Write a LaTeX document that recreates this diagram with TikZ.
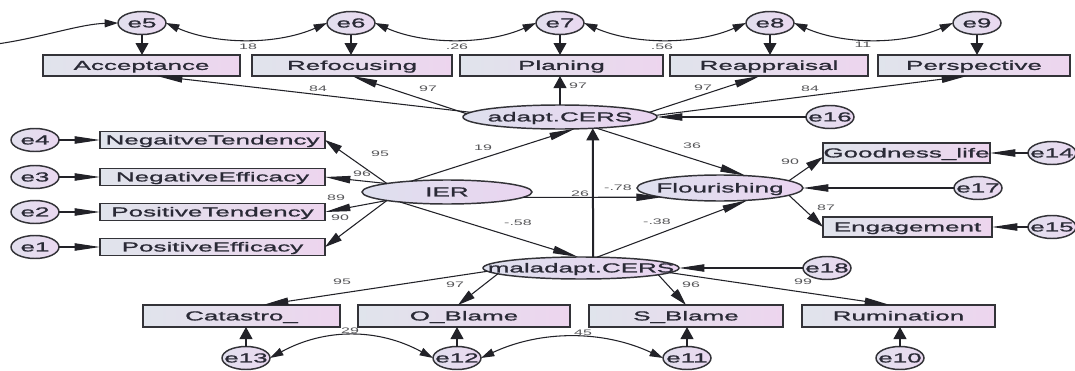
\documentclass[tikz,border=0pt]{standalone}
\usepackage{fontspec}
\newfontfamily\amosfont[FakeStretch=2.0,FakeBold=1.2]{Liberation Sans}
\newfontfamily\amoslabfont[FakeStretch=2.0]{Liberation Sans}
\usetikzlibrary{arrows.meta,calc,shapes.geometric}
\newcommand{\amostx}[1]{\makebox[0pt]{\raisebox{-0.34em}[0pt][0pt]{#1}}}
\definecolor{boxL}{HTML}{E0E4EC}
\definecolor{boxR}{HTML}{EDD5EE}
\definecolor{ellL}{HTML}{DEE0EE}
\definecolor{ellR}{HTML}{EAD4F0}
\definecolor{errL}{HTML}{E2E0EE}
\definecolor{errR}{HTML}{EAD8F0}
\definecolor{edge}{HTML}{333338}
\definecolor{lin}{HTML}{222228}
\definecolor{labc}{HTML}{555558}
\definecolor{txt}{HTML}{2A2A36}
\begin{document}
\begin{tikzpicture}[x=0.75pt,y=-0.75pt,
  sz/.style 2 args={minimum width=#1*0.75pt,minimum height=#2*0.75pt},
  obs/.style={rectangle,draw=edge,line width=1.1pt,left color=boxL,right color=boxR,inner sep=0pt,outer sep=0pt,font=\amosfont\fontsize{9.75}{11}\selectfont,text=txt},
  lat/.style={ellipse,draw=edge,line width=1.1pt,left color=ellL,right color=ellR,inner sep=0pt,outer sep=0pt,font=\amosfont\fontsize{9.75}{11}\selectfont,text=txt},
  err/.style={ellipse,draw=edge,line width=1.1pt,left color=errL,right color=errR,inner sep=0pt,outer sep=0pt,sz={48}{23},font=\amosfont\fontsize{9.75}{11}\selectfont,text=txt},
  lab/.style={inner sep=0pt,font=\amoslabfont\fontsize{6}{7}\selectfont,text=labc},
  conn/.style={draw=lin,line width=0.8pt},
  vconn/.style={draw=lin,line width=1.5pt},
  arrH/.style={conn,-{Triangle[length=19pt,width=5.5pt]}},
  arrM/.style={conn,-{Triangle[length=13pt,width=7pt]}},
  arrV/.style={vconn,-{Triangle[length=9pt,width=9.5pt]}},
  arrD/.style={conn,{Triangle[length=10pt,width=6pt]}-{Triangle[length=10pt,width=6pt]}}
]
\fill[white] (0,0) rectangle (1075,371);
\useasboundingbox (0,0) rectangle (1075,371);

% ---- top error terms
\node[err] (e5) at (142,23) {\amostx{e5}};
\node[err] (e6) at (351,23) {\amostx{e6}};
\node[err] (e7) at (560,23) {\amostx{e7}};
\node[err] (e8) at (770,23) {\amostx{e8}};
\node[err] (e9) at (977,23) {\amostx{e9}};
% ---- top indicators
\node[obs,sz={197}{21}] (Acc) at (141.5,65.5) {\amostx{Acceptance}};
\node[obs,sz={200}{21}] (Ref) at (352,65.5) {\amostx{Refocusing}};
\node[obs,sz={203}{21}] (Plan) at (561.5,65.5) {\amostx{Planing}};
\node[obs,sz={198}{21}] (Reap) at (769,65.5) {\amostx{Reappraisal}};
\node[obs,sz={192}{21}] (Persp) at (974,65.5) {\amostx{Perspective}};
% ---- latent variables
\node[lat,sz={194}{24}] (adapt) at (560,117) {\amostx{adapt.CERS}};
\node[lat,sz={170}{24}] (IER) at (447,192) {\amostx{IER}};
\node[lat,sz={166}{26}] (Flour) at (720,188) {\amostx{Flourishing}};
\node[lat,sz={196}{22}] (mal) at (581,268) {\amostx{maladapt.CERS}};
\node[err] (e16) at (830,117) {\amostx{e16}};
\node[err] (e17) at (978,188) {\amostx{e17}};
\node[err] (e18) at (827,268) {\amostx{e18}};
% ---- left indicators
\node[err] (e4) at (35,140) {\amostx{e4}};
\node[err] (e3) at (35,177) {\amostx{e3}};
\node[err] (e2) at (35,212) {\amostx{e2}};
\node[err] (e1) at (35,247) {\amostx{e1}};
\node[obs,sz={225}{17}] (NegT) at (212.5,140) {\amostx{NegaitveTendency}};
\node[obs,sz={225}{17}] (NegE) at (212.5,177) {\amostx{NegativeEfficacy}};
\node[obs,sz={225}{17}] (PosT) at (212.5,212) {\amostx{PositiveTendency}};
\node[obs,sz={225}{17}] (PosE) at (212.5,247) {\amostx{PositiveEfficacy}};
% ---- right indicators
\node[obs,sz={167}{20}] (Good) at (906.5,153) {\amostx{Goodness\_life}};
\node[obs,sz={169}{20}] (Eng) at (907.5,227) {\amostx{Engagement}};
\node[err] (e14) at (1052,153) {\amostx{e14}};
\node[err] (e15) at (1052,227) {\amostx{e15}};
% ---- bottom indicators
\node[obs,sz={197}{22}] (Cat) at (241.5,316) {\amostx{Catastro\_}};
\node[obs,sz={212}{22}] (OB) at (464,316) {\amostx{O\_Blame}};
\node[obs,sz={194}{22}] (SB) at (686,316) {\amostx{S\_Blame}};
\node[obs,sz={193}{22}] (Rum) at (898.5,316) {\amostx{Rumination}};
\node[err] (e13) at (246,358) {\amostx{e13}};
\node[err] (e12) at (457,358) {\amostx{e12}};
\node[err] (e11) at (687,358) {\amostx{e11}};
\node[err] (e10) at (900,358) {\amostx{e10}};

% ---- error -> indicator arrows
\foreach \e/\b in {e5/Acc,e6/Ref,e7/Plan,e8/Reap,e9/Persp}
  \draw[arrV] (\e) -- (\e |- \b.north);
\foreach \e/\b in {e13/Cat,e12/OB,e11/SB,e10/Rum}
  \draw[arrV] (\e) -- (\e |- \b.south);
\foreach \e/\b in {e4/NegT,e3/NegE,e2/PosT,e1/PosE,e14/Good,e15/Eng}
  \draw[arrH] (\e) -- (\b);
\draw[arrH] (e16) -- (adapt.east);
\draw[arrH] (e17) -- (Flour.east);
\draw[arrH] (e18) -- (mal.east);

% ---- covariances
\coordinate (lft) at (-3,44);
\draw[conn,-{Triangle[length=10pt,width=6pt]}] (lft) .. controls (40,38) and (80,24) .. (e5.west);
\draw[arrD] (e5.east) .. controls +(50,22) and +(-50,22) .. (e6.west);
\draw[arrD] (e6.east) .. controls +(50,22) and +(-50,22) .. (e7.west);
\draw[arrD] (e7.east) .. controls +(50,22) and +(-50,22) .. (e8.west);
\draw[arrD] (e8.east) .. controls +(50,22) and +(-50,22) .. (e9.west);
\draw[arrD] (e13.east) .. controls +(55,-30) and +(-55,-30) .. (e12.west);
\draw[arrD] (e12.east) .. controls +(60,-28) and +(-60,-28) .. (e11.west);

% ---- adapt.CERS loadings
\draw[arrH] (adapt.177) -- ($(Acc.south)+(15.5,0)$);
\draw[arrH] (adapt.178) -- (Ref.south);
\draw[arrV] (adapt.north) -- (adapt.north |- Plan.south);
\draw[arrH] (adapt.3) -- ($(Reap.south)+(-9,0)$);
\draw[arrH] (adapt.1) -- ($(Persp.south)+(-7,0)$);

% ---- IER loadings
\draw[arrM] (IER.north west) -- (NegT.east);
\draw[arrH] (IER.172) -- (NegE.east);
\draw[arrH] (IER.south west) -- (PosT.east);
\draw[arrM] (IER.south west) -- (PosE.east);

% ---- structural paths
\draw[arrH] (IER.163) -- (adapt.-39);
\draw[arrH] (IER.192) -- (mal.105);
\draw[arrH] (IER.-4) -- (Flour.189);
\draw[arrV] (mal.42) -- (adapt.-19);
\draw[arrH] (adapt.-17) -- (Flour.26);
\draw[arrH] (mal.34) -- (Flour.-24);

% ---- Flourishing loadings
\draw[arrM] (Flour.6) -- ($(Good.west)+(0,4)$);
\draw[arrM] (Flour.-6) -- (Eng.west);

% ---- maladapt.CERS loadings
\draw[arrH] (mal.182) -- ($(Cat.north)+(21.5,0)$);
\draw[arrM] (mal.184) -- ($(OB.north)+(-6,0)$);
\draw[arrM] (mal.-5) -- (SB.north);
\draw[arrH] (mal.-3) -- ($(Rum.north)+(-8.5,0)$);

% ---- coefficient labels
\node[lab] (c1) at (248,47) {18};
\node[lab] (c2) at (457,47) {.26};
\node[lab] (c3) at (662,47) {.56};
\node[lab] (c4) at (863,45) {11};
\node[lab] (c5) at (318,89) {84};
\node[lab] (c6) at (428,89) {97};
\node[lab] (c7) at (578,86) {97};
\node[lab] (c8) at (703,88) {97};
\node[lab] (c9) at (810,89) {84};
\node[lab] (c10) at (380,154) {95};
\node[lab] (c11) at (362,174) {96};
\node[lab] (c12) at (336,198) {89};
\node[lab] (c13) at (340,218) {90};
\node[lab] (c14) at (483,148) {19};
\node[lab] (c15) at (580,194) {26};
\node[lab] (c16) at (618,188) {-.78};
\node[lab] (c17) at (518,223) {-.58};
\node[lab] (c18) at (657,222) {-.38};
\node[lab] (c19) at (692,146) {36};
\node[lab] (c20) at (790,162) {90};
\node[lab] (c21) at (826,208) {87};
\node[lab] (c22) at (342,282) {95};
\node[lab] (c23) at (455,285) {97};
\node[lab] (c24) at (691,285) {96};
\node[lab] (c25) at (803,282) {99};
\node[lab] (c26) at (350,331) {29};
\node[lab] (c27) at (583,333) {45};
\end{tikzpicture}
\end{document}
